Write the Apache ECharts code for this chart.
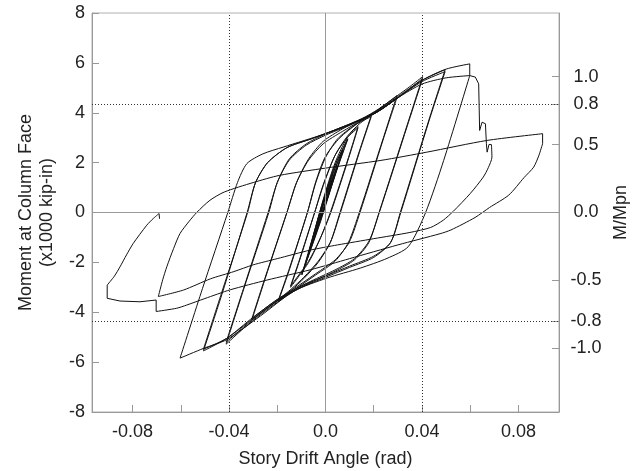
<!DOCTYPE html>
<html>
<head>
<meta charset="utf-8">
<script src="https://cdn.jsdelivr.net/npm/echarts@6/dist/echarts.min.js"></script>
<style>
  html, body { margin: 0; padding: 0; background: #fff; }
  #main { width: 634px; height: 471px; }
</style>
</head>
<body>
<div id="main"></div>
<script>
// axis ticks / labels
const xTicks = [-0.08, -0.06, -0.04, -0.02, 0, 0.02, 0.04, 0.06, 0.08];
const xLabels = [-0.08, -0.04, 0, 0.04, 0.08];
const mpnTicks = [-1.0, -0.8, -0.5, 0, 0.5, 0.8, 1.0];
const MPN = 5.45; // 1000 kip-in
const refX = [-0.04, 0.04];
const refY = [-4.36, 4.36];

// small elastic cycles (half cycles, [drift, moment])
const elastic = [
  [[0.0, 0.5], [0.0037, 1.5]],
  [[0.0037, 1.5], [0.0, 0.4], [-0.0038, -0.75]],
  [[-0.0038, -0.75], [0.0, 0.6], [0.0037, 1.5]],
  [[0.0037, 1.5], [0.0, 0.4], [-0.0038, -0.75]],
  [[-0.0038, -0.75], [0.0, 0.62], [0.0049, 1.85]],
  [[0.0049, 1.85], [0.0, 0.38], [-0.0051, -1.15]],
  [[-0.0051, -1.15], [0.0, 0.64], [0.0049, 1.85]],
  [[0.0049, 1.85], [0.0, 0.36], [-0.0051, -1.15]],
  [[-0.0051, -1.15], [-0.002, 0.05], [0.003, 1.5], [0.0072, 2.5]],
  [[0.0072, 2.5], [0.003, 1.25], [-0.002, -0.2], [-0.0076, -1.85]],
  [[-0.0076, -1.85], [-0.002, 0.1], [0.003, 1.55], [0.0072, 2.5]],
  [[0.0072, 2.5], [0.003, 1.2], [-0.002, -0.25], [-0.0076, -1.85]],
  [[-0.0076, -1.85], [-0.002, 0.15], [0.004, 1.9], [0.0092, 2.96]],
  [[0.0092, 2.96], [0.004, 1.55], [-0.002, -0.3], [-0.0098, -2.5]],
  [[-0.0098, -2.5], [-0.002, 0.1], [0.004, 1.9], [0.0092, 2.93]],
  [[0.0092, 2.93], [0.004, 1.5], [-0.002, -0.35], [-0.0098, -2.48]]
];

const cycle015 = [
  [[-0.0098, -2.48], [-0.006, -1.3], [-0.001, 0.5], [0.004, 2.0], [0.009, 3.0], [0.0135, 3.45]],
  [[0.0135, 3.45], [0.0095, 2.2], [0.002, 0.0], [-0.002, -1.0], [-0.007, -2.0], [-0.0145, -3.0]],
  [[-0.0145, -3.0], [-0.011, -2.0], [-0.0045, 0.0], [-0.001, 1.1], [0.004, 2.3], [0.009, 3.0], [0.0135, 3.4]],
  [[0.0135, 3.4], [0.0095, 2.15], [0.0022, 0.0], [-0.002, -1.0], [-0.007, -1.95], [-0.0145, -2.95]]
];

const cycle02 = [
  [[-0.0145, -2.95], [-0.011, -1.95], [-0.0045, 0.0], [-0.0005, 1.2], [0.004, 2.3], [0.009, 3.05], [0.014, 3.55], [0.019, 3.9]],
  [[0.019, 3.9], [0.014, 2.45], [0.006, 0.0], [0.002, -1.2], [-0.003, -2.0], [-0.009, -2.65], [-0.014, -3.1], [-0.0195, -3.55]],
  [[-0.0195, -3.55], [-0.015, -2.3], [-0.0075, 0.0], [-0.004, 1.2], [0.0, 2.2], [0.005, 2.95], [0.012, 3.5], [0.019, 3.85]],
  [[0.019, 3.85], [0.014, 2.4], [0.0062, 0.0], [0.002, -1.2], [-0.003, -1.95], [-0.009, -2.6], [-0.014, -3.05], [-0.0195, -3.5]]
];

const cycle03 = [
  [[-0.0195, -3.5], [-0.015, -2.25], [-0.0075, 0.0], [-0.004, 1.25], [0.0, 2.25], [0.006, 3.0], [0.013, 3.55], [0.02, 4.0], [0.025, 4.35], [0.0296, 4.69]],
  [[0.0296, 4.69], [0.024, 3.0], [0.014, 0.0], [0.0095, -1.2], [0.004, -1.95], [-0.004, -2.5], [-0.013, -3.1], [-0.021, -3.6], [-0.0305, -4.31]],
  [[-0.0305, -4.31], [-0.025, -2.65], [-0.016, 0.0], [-0.012, 1.2], [-0.007, 2.1], [-0.001, 2.75], [0.007, 3.25], [0.015, 3.7], [0.022, 4.1], [0.0296, 4.6]],
  [[0.0296, 4.6], [0.024, 2.95], [0.0143, 0.0], [0.0098, -1.2], [0.004, -1.9], [-0.004, -2.45], [-0.013, -3.05], [-0.021, -3.55], [-0.0305, -4.25]]
];

const cycle04 = [
  [[-0.0305, -4.25], [-0.025, -2.6], [-0.016, 0.0], [-0.012, 1.2], [-0.007, 2.15], [-0.001, 2.85], [0.007, 3.35], [0.015, 3.75], [0.022, 4.15], [0.03, 4.7], [0.035, 5.05], [0.0403, 5.45]],
  [[0.0403, 5.45], [0.034, 3.55], [0.0222, 0.0], [0.018, -1.2], [0.012, -1.9], [0.004, -2.35], [-0.006, -2.8], [-0.013, -3.15], [-0.02, -3.6], [-0.027, -4.1], [-0.034, -4.65], [-0.0412, -5.28]],
  [[-0.0412, -5.28], [-0.034, -3.1], [-0.0235, 0.0], [-0.02, 1.2], [-0.015, 2.1], [-0.008, 2.7], [0.0, 3.1], [0.01, 3.5], [0.02, 3.95], [0.03, 4.6], [0.0403, 5.38]],
  [[0.0403, 5.38], [0.034, 3.5], [0.0223, 0.0], [0.018, -1.15], [0.012, -1.85], [0.004, -2.3], [-0.006, -2.75], [-0.013, -3.1], [-0.02, -3.55], [-0.027, -4.05], [-0.034, -4.6], [-0.0412, -5.2]]
];

const cycle05 = [
  [[-0.0412, -5.2], [-0.034, -3.05], [-0.0238, 0.0], [-0.02, 1.2], [-0.015, 2.15], [-0.008, 2.75], [0.0, 3.15], [0.01, 3.55], [0.02, 4.0], [0.03, 4.65], [0.04, 5.3], [0.0496, 5.73]],
  [[0.0496, 5.73], [0.043, 3.75], [0.031, 0.0], [0.027, -1.2], [0.02, -1.75], [0.01, -2.15], [0.0, -2.55], [-0.01, -2.95], [-0.02, -3.5], [-0.03, -4.2], [-0.041, -5.05], [-0.0506, -5.55]],
  [[-0.0506, -5.55], [-0.043, -3.3], [-0.0325, 0.0], [-0.029, 1.2], [-0.024, 2.0], [-0.016, 2.6], [-0.006, 2.95], [0.005, 3.35], [0.02, 3.95], [0.03, 4.6], [0.04, 5.25], [0.0496, 5.65]],
  [[0.0496, 5.65], [0.043, 3.7], [0.0312, 0.0], [0.027, -1.2], [0.02, -1.8], [0.01, -2.2], [0.0, -2.6], [-0.01, -3.0], [-0.02, -3.55], [-0.03, -4.25], [-0.041, -5.05], [-0.0506, -5.48]]
];

const cycle06 = [
  [[-0.0506, -5.48], [-0.043, -3.2], [-0.0323, 0.0], [-0.029, 1.2], [-0.024, 2.0], [-0.016, 2.6], [-0.006, 2.95], [0.005, 3.35], [0.02, 3.95], [0.03, 4.6], [0.04, 5.3], [0.05, 5.75], [0.0598, 5.96]],
  [[0.0598, 5.49], [0.049, 2.09], [0.0415, 0.0], [0.0343, -1.37], [0.0255, -1.84], [0.0144, -2.23], [0.0006, -2.63], [-0.013, -3.15], [-0.027, -4.15], [-0.041, -5.1], [-0.0506, -5.45], [-0.0603, -5.84]],
  [[-0.0603, -5.84], [-0.051, -3.05], [-0.0405, 0.0], [-0.0365, 1.2], [-0.0326, 1.96], [-0.026, 2.35], [-0.0176, 2.62], [0.0, 3.16], [0.011, 3.56], [0.0227, 4.1], [0.03, 4.6], [0.04, 5.15], [0.05, 5.4], [0.0598, 5.49]]
];

// fracture and large excursions
const afterFracture = [
  [[0.0688, 2.72], [0.069, 2.22], [0.0675, 1.8], [0.0654, 1.42], [0.06, 0.76], [0.053, 0.05], [0.0488, -0.31], [0.0436, -0.6], [0.035, -0.8], [0.02, -1.05], [0.005, -1.3], [-0.0064, -1.51], [-0.02, -1.85], [-0.03, -2.1], [-0.038, -2.37], [-0.0477, -2.66], [-0.0589, -3.11], [-0.0693, -3.37]],
  [[-0.0693, -3.37], [-0.0675, -2.7], [-0.0658, -2.18], [-0.063, -1.45], [-0.0603, -0.84], [-0.0565, -0.35], [-0.0534, 0.0], [-0.0479, 0.49], [-0.042, 0.82], [-0.03, 1.2], [-0.019, 1.49], [0.0, 1.78], [0.023, 2.09], [0.042, 2.42], [0.067, 2.89], [0.09, 3.16]],
  [[0.09, 2.76], [0.0885, 2.3], [0.0863, 1.82], [0.0823, 1.4], [0.076, 0.7], [0.068, 0.2], [0.062, -0.2], [0.052, -0.7], [0.0475, -0.85], [0.03, -1.3], [0.01, -1.85], [-0.0064, -2.3], [-0.0243, -2.71], [-0.0395, -3.1], [-0.05, -3.45], [-0.0575, -3.71], [-0.0617, -3.84], [-0.0702, -3.97]],
  [[-0.0905, -2.91], [-0.0875, -2.55], [-0.0852, -2.18], [-0.0825, -1.7], [-0.0797, -1.24], [-0.0741, -0.51], [-0.0715, -0.25], [-0.069, -0.04]]
];

// straight pieces (drops, fracture steps)
const sharp = [
  [[0.0598, 5.96], [0.0598, 5.49]],
  [[0.0598, 5.49], [0.0621, 5.43], [0.0635, 5.16], [0.0639, 3.29], [0.0649, 3.62], [0.0663, 3.56], [0.0667, 2.76], [0.067, 2.42], [0.0678, 2.73], [0.0688, 2.72]],
  [[0.09, 3.16], [0.09, 2.76]],
  [[-0.0702, -3.97], [-0.0702, -3.51], [-0.0769, -3.58], [-0.0852, -3.55], [-0.0905, -3.44], [-0.0905, -2.91]],
  [[-0.069, -0.04], [-0.0688, -0.25]]
];

const smoothPieces = [].concat(elastic, cycle015, cycle02, cycle03, cycle04, cycle05, cycle06, afterFracture);

const FONT = 'Liberation Sans, Arial, sans-serif';
const lineStyle = { color: '#111', width: 1 };

const series = [];
smoothPieces.forEach(function (d) {
  series.push({ type: 'line', data: d, showSymbol: false, smooth: 0.25, silent: true, z: 3, lineStyle: lineStyle });
});
sharp.forEach(function (d) {
  series.push({ type: 'line', data: d, showSymbol: false, smooth: false, silent: true, z: 3, lineStyle: lineStyle });
});

const dotted = { color: '#333', width: 1, type: [1, 2] };
const solidGrey = { color: '#999', width: 1, type: 'solid' };
series.push({
  type: 'line', data: [], z: 1, silent: true,
  markLine: {
    silent: true, symbol: 'none', label: { show: false }, animation: false,
    data: [
      { xAxis: 0, lineStyle: solidGrey },
      { yAxis: 0, lineStyle: solidGrey }
    ].concat(refX.map(v => ({ xAxis: v, lineStyle: dotted })))
     .concat(refY.map(v => ({ yAxis: v, lineStyle: dotted })))
  }
});

const chart = echarts.init(document.getElementById('main'));
chart.setOption({
  animation: false,
  grid: { left: 92, right: 75, top: 13, bottom: 59, show: true, borderColor: '#b0b0b0', borderWidth: 1, containLabel: false, outerBoundsMode: 'none' },
  xAxis: {
    type: 'value', min: -0.0968, max: 0.0968,
    name: 'Story Drift Angle (rad)', nameLocation: 'middle', nameGap: 38,
    nameTextStyle: { fontSize: 18, color: '#222', fontFamily: FONT },
    axisLine: { show: true, onZero: false, lineStyle: { color: '#999' } },
    axisTick: { show: true, inside: true, length: 7, customValues: xTicks, lineStyle: { color: '#999' } },
    axisLabel: { customValues: xLabels, formatter: v => (v === 0 ? '0.0' : String(v)), fontSize: 18, color: '#222', margin: 11, fontFamily: FONT },
    splitLine: { show: false }
  },
  yAxis: [
    {
      type: 'value', min: -8, max: 8, interval: 2, position: 'left',
      name: 'Moment at Column Face\n(x1000 kip-in)', nameLocation: 'middle', nameRotate: 90, nameGap: 34,
      nameTextStyle: { fontSize: 18, lineHeight: 21, color: '#222', fontFamily: FONT },
      axisLine: { show: true, onZero: false, lineStyle: { color: '#999' } },
      axisTick: { show: true, inside: true, length: 7, lineStyle: { color: '#999' } },
      axisLabel: { fontSize: 18, color: '#222', margin: 7, fontFamily: FONT },
      splitLine: { show: false }
    },
    {
      type: 'value', min: -8 / MPN, max: 8 / MPN, position: 'right',
      name: 'M/Mpn', nameLocation: 'middle', nameRotate: 90, nameGap: 45,
      nameTextStyle: { fontSize: 18, color: '#222', fontFamily: FONT },
      axisLine: { show: true, onZero: false, lineStyle: { color: '#999' } },
      axisTick: { show: true, inside: true, length: 7, customValues: mpnTicks, lineStyle: { color: '#999' } },
      axisLabel: { customValues: mpnTicks, formatter: v => v.toFixed(1), align: 'center', margin: 27, fontSize: 18, color: '#222', fontFamily: FONT },
      splitLine: { show: false }
    }
  ],
  series: series
});
</script>
</body>
</html>
